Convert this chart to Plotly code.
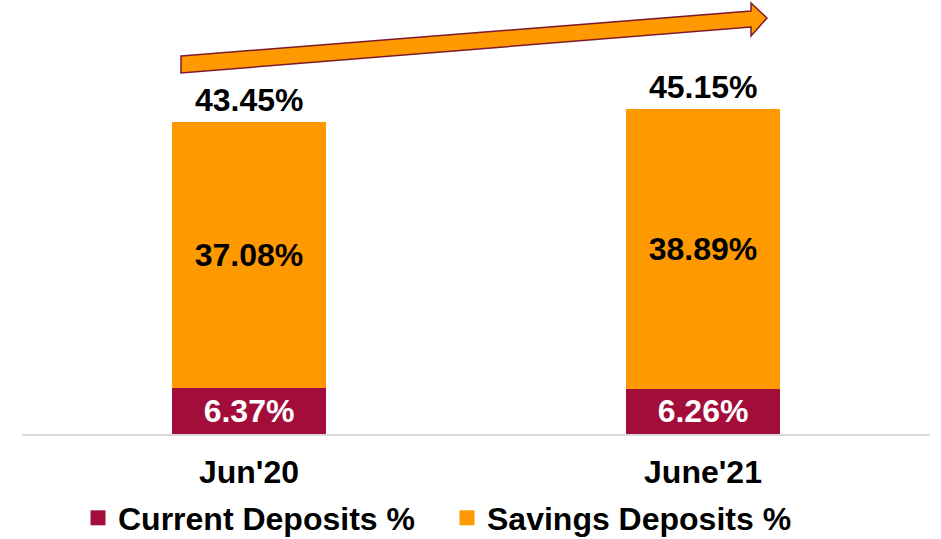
import plotly.graph_objects as go

categories = ["Jun'20", "June'21"]
current_deposits = [6.37, 6.26]
savings_deposits = [37.08, 38.89]
totals = [43.45, 45.15]
series_names = ["Current Deposits %", "Savings Deposits %"]

MAROON = "#A20D3A"
ORANGE = "#FF9900"
FONT = "Liberation Sans, Arial, sans-serif"
FS = 32

W, H = 941, 539
L, R, T, B = 22, 11, 10, 105
PW, PH = W - L - R, H - T - B


def px(x, y):
    return (x - L) / PW, (H - B - y) / PH


fig = go.Figure()
for vals, name, col, tcol in [(current_deposits, series_names[0], MAROON, "white"),
                              (savings_deposits, series_names[1], ORANGE, "black")]:
    fig.add_trace(go.Bar(
        x=categories, y=vals, name=name, showlegend=False,
        marker=dict(color=col, line=dict(width=0)), width=0.34,
        text=[f"{v:.2f}%" for v in vals], textposition="inside",
        insidetextanchor="middle", cliponaxis=False,
        textfont=dict(color=tcol, size=FS, family=FONT, weight="bold"),
    ))
    # legend proxy with a larger square symbol
    fig.add_trace(go.Scatter(
        x=[None], y=[None], mode="markers", name=name,
        marker=dict(symbol="square", size=15, color=col),
    ))

for c, v in zip(categories, totals):
    fig.add_annotation(x=c, y=v, text=f"{v:.2f}%", showarrow=False,
                       yanchor="bottom", yshift=2,
                       font=dict(color="black", size=FS, family=FONT, weight="bold"))

# trend arrow
pts = [(181, 56), (751, 11), (751, 3), (767, 18), (751, 36), (751, 27), (181, 73)]
path = "M " + " L ".join(f"{px(x, y)[0]:.5f},{px(x, y)[1]:.5f}" for x, y in pts) + " Z"
fig.add_shape(type="path", path=path, xref="paper", yref="paper",
              fillcolor=ORANGE, line=dict(color="#7A1A2E", width=1.5), layer="above")

fig.update_layout(
    width=W, height=H, margin=dict(l=L, r=R, t=T, b=B, autoexpand=False),
    barmode="stack", bargap=0.66,
    plot_bgcolor="white", paper_bgcolor="white",
    font=dict(family=FONT, size=FS, color="black"),
    xaxis=dict(showline=True, linecolor="#D9D9D9", linewidth=1.5, ticks="",
               tickfont=dict(size=FS, family=FONT, color="black", weight="bold"),
               ticklabelstandoff=9, showgrid=False, automargin=False),
    yaxis=dict(range=[0, PH / 7.19], visible=False, showgrid=False, automargin=False),
    showlegend=True,
    legend=dict(orientation="h", x=px(78, 0)[0], xanchor="left", y=px(0, 518)[1], yanchor="middle",
                font=dict(size=FS, family=FONT, color="black", weight="bold"),
                traceorder="normal", itemclick=False, entrywidth=324,
                bgcolor="rgba(0,0,0,0)"),
)

fig.write_html("out.html", config={"displayModeBar": False},
               post_script="document.body.style.margin='0';document.body.style.overflow='hidden';")
